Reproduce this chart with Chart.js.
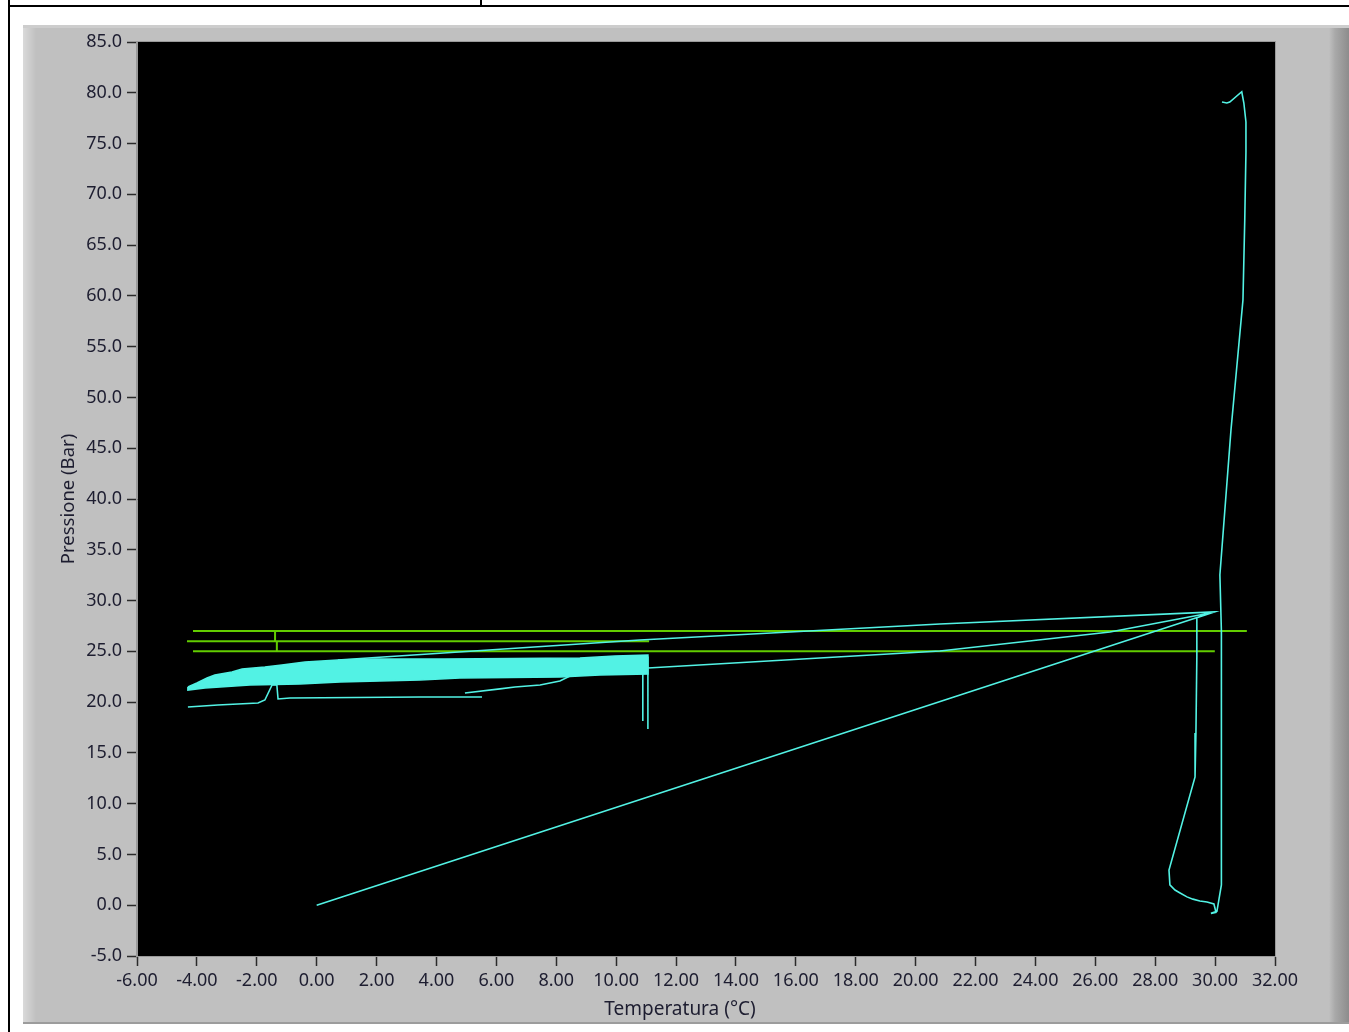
<!DOCTYPE html>
<html>
<head>
<meta charset="utf-8">
<title>Pressione / Temperatura</title>
<script src="https://cdn.jsdelivr.net/npm/chart.js@4.4.0/dist/chart.umd.min.js"></script>
<style>
body { margin: 0; background: #fff; width: 1349px; height: 1032px; position: relative; overflow: hidden; }
#bordoSx { position: absolute; left: 8px; top: 0; width: 2px; height: 1032px; background: #000; }
#bordoSu { position: absolute; left: 8px; top: 5px; width: 1341px; height: 2px; background: #000; }
#bordoCella { position: absolute; left: 480px; top: 0; width: 2px; height: 6px; background: #000; }
#pannello {
    position: absolute; left: 23px; top: 25px; width: 1326px; height: 999px;
    background: linear-gradient(to right, #dadada 0px, #c8c8c8 9px, #c0c0c0 13px, #c0c0c0 1306px, #a9a9a9 1312px, #8c8c8c 1326px);
    box-shadow: inset 0 3px 0 #cdcdcd, inset 0 -2px 0 #9c9c9c;
}
#grafico { position: absolute; left: 0; top: 0; }
</style>
</head>
<body>
<div id="bordoSx"></div>
<div id="bordoSu"></div>
<div id="bordoCella"></div>
<div id="pannello"><canvas id="grafico" width="1326" height="999"></canvas></div>
<script>
// tick labels
var xTicks = [-6, -4, -2, 0, 2, 4, 6, 8, 10, 12, 14, 16, 18, 20, 22, 24, 26, 28, 30, 32];
var yTicks = [-5, 0, 5, 10, 15, 20, 25, 30, 35, 40, 45, 50, 55, 60, 65, 70, 75, 80, 85];
var titoloX = 'Temperatura (°C)';
var titoloY = 'Pressione (Bar)';

// traccia principale (null = interruzione)
var tracciaT = [
    -4.30, -3.30, -1.96, -1.73, -1.49, -1.33, -1.29, -0.89, 3.45, 5.52, null,
    4.95, 6.12, 6.62, 7.46, 8.12, 8.46, null,
    10.89, 10.89, null,
    11.06, 11.06, null,
    0.71, 10.79, 20.81, 29.99, 29.39, 29.39, 29.36, 29.33, 28.46, 28.49, 28.66, 28.83, 29.06, 29.26, 29.49, 29.73, 29.96,
    30.03, 29.86, 30.06, 30.12, 30.21, 30.21, 30.16, 30.53, 30.93, 30.99, 31.03, 31.03, 30.96, 30.89, 30.49, 30.39, 30.23, null,
    11.06, 20.81, 26.49, 29.83, null,
    0.00, 29.99
];
var tracciaP = [
    19.52, 19.72, 19.91, 20.21, 21.69, 21.69, 20.31, 20.41, 20.51, 20.51, null,
    20.90, 21.30, 21.49, 21.69, 22.08, 22.57, null,
    24.29, 18.14, null,
    24.49, 17.35, null,
    24.15, 26.12, 27.69, 28.88, 28.30, 24.45, 16.96, 12.63, 3.47, 2.00, 1.50, 1.21, 0.82, 0.60, 0.41, 0.31, 0.12,
    -0.70, -0.80, -0.60, 0.42, 2.00, 27.00, 32.52, 46.80, 59.60, 67.47, 74.17, 77.12, 78.99, 80.10, 79.09, 78.99, 79.09, null,
    23.36, 25.03, 26.90, 28.78, null,
    0.00, 28.90
];

// nuvola di punti densa a sinistra (contorno)
var nuvolaT = [-4.30, -4.00, -3.66, -3.40, -2.83, -2.49, -1.73, -1.16, -0.39, 0.71, 1.95, 4.28, 8.79, 9.96, 11.06,
    11.06, 9.46, 8.12, 4.78, 3.45, 2.11, 0.78, -0.56, -2.23, -3.23, -3.73, -4.30, -4.30];
var nuvolaP = [21.49, 21.88, 22.38, 22.67, 22.97, 23.26, 23.46, 23.66, 23.95, 24.15, 24.25, 24.25, 24.35, 24.54, 24.64,
    22.77, 22.67, 22.47, 22.37, 22.18, 22.08, 21.98, 21.78, 21.68, 21.49, 21.39, 21.19, 21.49];

// soglie verdi
var sogliaT = [31.06, -4.13, null, -1.39, -1.39, null, -4.33, 11.10, null, -1.33, -1.33, null, -4.13, 29.99];
var sogliaP = [27.0, 27.0, null, 27.0, 26.0, null, 26.0, 26.0, null, 26.0, 25.0, null, 25.0, 25.0];

var ciano = '#52f2e4';
var verde = '#62cc00';
var testo = '#1d1d30';
var famiglia = "'Noto Sans', 'DejaVu Sans', sans-serif";
var fontAssi = { family: famiglia, size: 18 };

function punti(t, p) {
    var out = [];
    for (var i = 0; i < t.length; i++) {
        if (t[i] === null) out.push({ x: 0, y: null });
        else out.push({ x: t[i], y: p[i] });
    }
    return out;
}

var sfondoNero = {
    id: 'sfondoNero',
    beforeDraw: function (chart) {
        var a = chart.chartArea;
        var c = chart.ctx;
        c.save();
        c.fillStyle = '#000';
        c.fillRect(a.left, a.top, a.right - a.left, a.bottom - a.top);
        c.restore();
    },
    afterDraw: function (chart) {
        var a = chart.chartArea;
        var c = chart.ctx;
        c.save();
        c.strokeStyle = '#9a9a9a';
        c.lineWidth = 1;
        c.strokeRect(a.left - 0.5, a.top - 0.5, a.right - a.left + 1, a.bottom - a.top + 1);
        // titolo asse x, un po' a sinistra del centro come nell'originale
        c.fillStyle = testo;
        c.font = '19px ' + famiglia;
        c.textAlign = 'center';
        c.textBaseline = 'middle';
        c.fillText(titoloX, a.left + (a.right - a.left) / 2 - 26, a.bottom + 54);
        c.restore();
    }
};

var ctx = document.getElementById('grafico').getContext('2d');
var myChart = new Chart(ctx, {
    type: 'line',
    data: {
        datasets: [{
            label: 'traccia',
            data: punti(tracciaT, tracciaP),
            borderColor: ciano,
            borderWidth: 1.6,
            pointRadius: 0,
            fill: false,
            order: 1
        }, {
            label: 'nuvola',
            data: punti(nuvolaT, nuvolaP),
            borderColor: ciano,
            backgroundColor: ciano,
            borderWidth: 1.6,
            pointRadius: 0,
            fill: 'shape',
            order: 2
        }, {
            label: 'soglie',
            data: punti(sogliaT, sogliaP),
            borderColor: verde,
            borderWidth: 2,
            pointRadius: 0,
            fill: false,
            order: 3
        }]
    },
    options: {
        responsive: false,
        animation: false,
        devicePixelRatio: 1,
        layout: { padding: { left: 0, top: 17, right: 74, bottom: 0 } },
        plugins: { legend: { display: false }, tooltip: { enabled: false } },
        scales: {
            x: {
                type: 'linear',
                min: -6,
                max: 32,
                afterBuildTicks: function (s) { s.ticks = xTicks.map(function (v) { return { value: v }; }); },
                afterFit: function (s) { s.height = 68; },
                ticks: {
                    color: testo, font: fontAssi, padding: 4, maxRotation: 0, autoSkip: false,
                    callback: function (v) { return Number(v).toFixed(2); }
                },
                grid: { drawOnChartArea: false, drawTicks: true, tickLength: 10, tickColor: '#2a2a2a', tickWidth: 1.5 },
                border: { display: true, color: '#9a9a9a', width: 1 },
                title: { display: false }
            },
            y: {
                type: 'linear',
                min: -5,
                max: 85,
                afterBuildTicks: function (s) { s.ticks = yTicks.map(function (v) { return { value: v }; }); },
                afterFit: function (s) { s.width = 114; },
                ticks: {
                    color: testo, font: fontAssi, padding: 5, autoSkip: false,
                    callback: function (v) { return Number(v).toFixed(1); }
                },
                grid: { drawOnChartArea: false, drawTicks: true, tickLength: 10, tickColor: '#2a2a2a', tickWidth: 1.5 },
                border: { display: true, color: '#9a9a9a', width: 1 },
                title: { display: true, text: titoloY, color: testo, font: { family: famiglia, size: 18.5 }, padding: { top: 35, bottom: 0 } }
            }
        }
    },
    plugins: [sfondoNero]
});
</script>
</body>
</html>
